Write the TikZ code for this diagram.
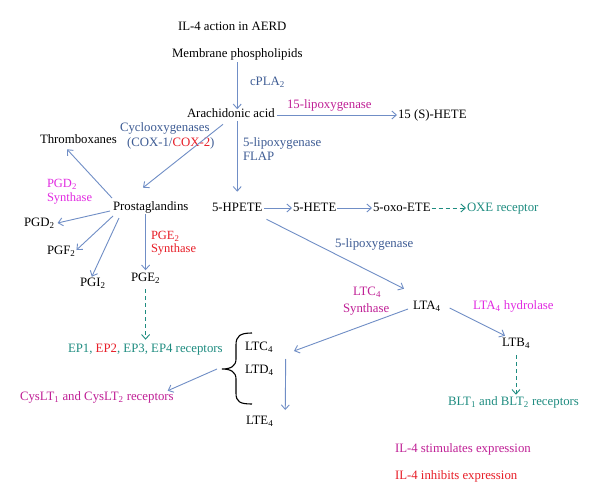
\documentclass[tikz,border=0pt]{standalone}
\usepackage{fontspec}
\setmainfont{Liberation Serif}
\usetikzlibrary{arrows.meta,calc}
\definecolor{arrblue}{RGB}{112,142,198}
\definecolor{enzblue}{RGB}{62,92,148}
\definecolor{dmag}{RGB}{192,32,150}
\definecolor{bmag}{RGB}{226,44,226}
\definecolor{teal2}{RGB}{30,140,128}
\definecolor{red2}{RGB}{232,30,40}
\newcommand{\sbs}[1]{\textsubscript{#1}}
\tikzset{
  t/.style={inner sep=0pt, outer sep=0pt, text height=.66em, text depth=0pt, anchor=west, font=\fontsize{12.8}{12}\selectfont},
  ttwo/.style={inner sep=0pt, outer sep=0pt, align=left, anchor=north west, font=\fontsize{12.5}{13.2}\selectfont},
  arr/.style={draw=arrblue, line width=0.9pt, -{Straight Barb[length=4.5pt,width=8pt]}},
  darr/.style={draw=teal2, line width=0.9pt, dash pattern=on 4pt off 3pt, -{Straight Barb[length=4.5pt,width=8pt]}},
}
\begin{document}
\begin{tikzpicture}[x=1pt,y=-1pt]
\useasboundingbox[fill=white] (0,0) rectangle (600,503);
% nodes
\node[t] (title) at (178,27) {IL-4 action in AERD};
\node[t] (mem) at (172,54) {Membrane phospholipids};
\node[t, text=enzblue] (cpla) at (250,82) {cPLA\sbs{2}};
\node[t] (aa) at (187,114) {Arachidonic acid};
\node[t, text=dmag] (lox15) at (287,105) {15-lipoxygenase};
\node[t] (hete15) at (398,115) {15 (S)-HETE};
\node[t, text=enzblue] (cyclo) at (120,128) {Cyclooxygenases};
\node[t, text=enzblue] (cox) at (127,143) {(COX-1/\textcolor{red2}{COX-2})};
\node[t] (thromb) at (40,140) {Thromboxanes};
\node[t, text=enzblue] (lox5) at (243,143) {5-lipoxygenase};
\node[t, text=enzblue] (flap) at (243,157) {FLAP};
\node[t] (pg) at (113,207) {Prostaglandins};
\node[ttwo, text=bmag] (pgds) at (47,179.6) {PGD\sbs{2}\\Synthase};
\node[t] (pgd2) at (24,223) {PGD\sbs{2}};
\node[t] (pgf2) at (47,251) {PGF\sbs{2}};
\node[t] (pgi2) at (80,283) {PGI\sbs{2}};
\node[t] (pge2) at (131,278) {PGE\sbs{2}};
\node[ttwo, text=red2] (pges) at (151,231) {PGE\sbs{2}\\Synthase};
\node[t, text=teal2] (ep) at (68,349) {EP1, \textcolor{red2}{EP2}, EP3, EP4 receptors};
\node[t] (hpete) at (212,208) {5-HPETE};
\node[t] (hete5) at (293,208) {5-HETE};
\node[t] (oxo) at (373,208) {5-oxo-ETE};
\node[t, text=teal2] (oxe) at (467,208) {OXE receptor};
\node[t, text=enzblue] (lox5b) at (335,244) {5-lipoxygenase};
\node[t] (lta4) at (413,306) {LTA\sbs{4}};
\node[t, text=dmag] (ltcsa) at (353,292) {LTC\sbs{4}};
\node[t, text=dmag] (ltcsb) at (343,309) {Synthase};
\node[t, text=bmag] (ltah) at (473,306) {LTA\sbs{4} hydrolase};
\node[t] (ltb4) at (502,343) {LTB\sbs{4}};
\node[t, text=teal2] (blt) at (448,402) {BLT\sbs{1} and BLT\sbs{2} receptors};
\node[t] (ltc4) at (245,347) {LTC\sbs{4}};
\node[t] (ltd4) at (245,370) {LTD\sbs{4}};
\node[t] (lte4) at (246,421) {LTE\sbs{4}};
\node[t, text=dmag] (cyslt) at (20,397) {CysLT\sbs{1} and CysLT\sbs{2} receptors};
\node[t, text=dmag] (stim) at (395,449) {IL-4 stimulates expression};
\node[t, text=red2] (inh) at (395,476) {IL-4 inhibits expression};
% brace
\coordinate (bt) at (222,369);
\draw[line width=1.1pt] (252,333) .. controls (240,333) and (236,336) .. (236,345) -- (236,359)
  .. controls (236,366) and (231,369) .. (bt) .. controls (231,369) and (236,372) .. (236,379)
  -- (236,393) .. controls (236,402) and (240,404) .. (252,404);
% connectors
\draw[arr] ($(mem.south)+(0,5)$) -- ($(mem.south |- aa.north)+(0,-1.5)$);
\draw[arr] ($(aa.east)+(2,1)$) -- ($(hete15.west)+(-1,0)$);
\draw[arr] ($(aa.south -| hpete.north)+(0,4)$) -- ($(hpete.north)+(0,-13)$);
\draw[arr] ($(aa.south west)+(36,7)$) -- ($(pg.north west)+(30,-16)$);
\draw[arr] ($(pg.west)+(-1,-9)$) -- ($(thromb.south west)+(27,6)$);
\draw[arr] ($(pg.west)+(-3,4)$) -- ($(pgd2.east)+(3,0)$);
\draw[arr] ($(pg.west)+(0,9)$) -- ($(pgf2.east)+(1,-1)$);
\draw[arr] ($(pg.west)+(6,11)$) -- ($(pgi2.north)+(-1,-3)$);
\draw[arr] ($(pge2.north |- pg.south)+(0,4)$) -- ($(pge2.north)+(0,-4.5)$);
\draw[darr] ($(pge2.south)+(0,8)$) -- ($(pge2.south |- ep.north)+(0,-6)$);
\draw[arr] ($(hpete.east)+(2,0)$) -- ($(hete5.west)+(-1,0)$);
\draw[arr] ($(hete5.east)+(1,0)$) -- ($(oxo.west)+(-1,0)$);
\draw[darr] ($(oxo.east)+(1,0)$) -- ($(oxe.west)+(-1,0)$);
\draw[arr] ($(hpete.south east)+(4,8)$) -- ($(lta4.north west)+(-9,-14)$);
\draw[arr] ($(lta4.east)+(9,2)$) -- ($(ltb4.north)+(-11,-4)$);
\draw[darr] ($(ltb4.south)+(0,9)$) -- ($(ltb4.south |- blt.north)+(0,-4)$);
\draw[arr] ($(lta4.west)+(-5,3)$) -- ($(ltc4.east)+(21,4)$);
\draw[arr] ($(ltd4.east)+(12,-11)$) -- ($(lte4.east)+(12,-11)$);
\draw[arr] ($(bt)+(-5,0)$) -- ($(cyslt.north east)+(-6,-3)$);
\end{tikzpicture}
\end{document}
